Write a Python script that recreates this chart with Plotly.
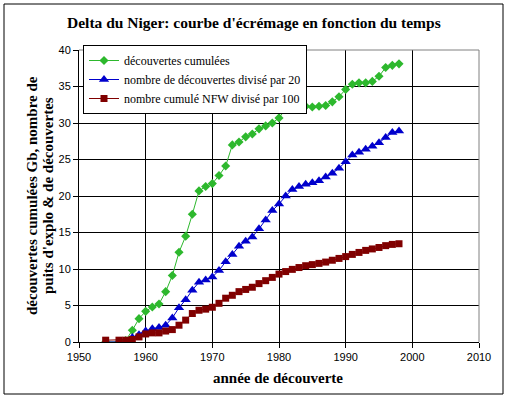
import plotly.graph_objects as go

years = [1954, 1956, 1957, 1958, 1959, 1960, 1961, 1962, 1963, 1964, 1965, 1966,
         1967, 1968, 1969, 1970, 1971, 1972, 1973, 1974, 1975, 1976, 1977, 1978,
         1979, 1980, 1981, 1982, 1983, 1984, 1985, 1986, 1987, 1988, 1989, 1990,
         1991, 1992, 1993, 1994, 1995, 1996, 1997, 1998]

decouvertes_cumulees = [0, 0, 0.2, 1.6, 3.2, 4.2, 4.8, 5.2, 6.9, 9.1, 12.3, 14.5,
                        17.5, 20.7, 21.3, 21.7, 22.8, 24.1, 27.0, 27.4, 28.1, 28.5, 29.2, 29.6,
                        30.0, 30.7, 31.9, 32.1, 32.2, 32.3, 32.2, 32.3, 32.4, 32.9, 33.6, 34.6,
                        35.3, 35.5, 35.5, 35.7, 36.4, 37.6, 37.9, 38.1]

nb_decouvertes_div20 = [0, 0, 0, 0.6, 1.0, 1.5, 1.8, 2.0, 2.3, 3.3, 4.7, 5.8,
                        7.1, 8.2, 8.5, 8.9, 9.8, 11.0, 12.0, 13.1, 13.8, 14.4, 15.5, 16.7,
                        18.0, 18.9, 20.0, 20.9, 21.3, 21.6, 21.8, 22.1, 22.6, 23.1, 23.8, 24.7,
                        25.6, 26.0, 26.4, 26.8, 27.3, 28.0, 28.7, 28.9]

nfw_cumule_div100 = [0.25, 0.25, 0.25, 0.35, 0.7, 1.1, 1.25, 1.25, 1.5, 1.7, 2.3, 3.0,
                     3.9, 4.35, 4.5, 4.76, 5.3, 6.0, 6.4, 6.9, 7.2, 7.5, 8.0, 8.4,
                     8.85, 9.3, 9.65, 9.95, 10.2, 10.45, 10.6, 10.77, 10.95, 11.2, 11.45, 11.7,
                     12.0, 12.27, 12.55, 12.75, 12.95, 13.2, 13.37, 13.46]

names = ["découvertes cumulées",
         "nombre de découvertes divisé par 20",
         "nombre cumulé NFW divisé par 100"]

title_text = "Delta du Niger: courbe d'écrémage en fonction du temps"
xtitle = "année de découverte"
ytitle_lines = ["découvertes cumulées Gb, nombre de", "puits d'explo & de découvertes"]

GREEN = "#2db82d"
BLUE = "#0000cc"
RED = "#800000"

fig = go.Figure()
fig.add_trace(go.Scatter(x=years, y=decouvertes_cumulees, name=names[0], mode="lines+markers",
                         line=dict(color=GREEN, width=1),
                         marker=dict(symbol="diamond", size=7, color=GREEN)))
fig.add_trace(go.Scatter(x=years, y=nb_decouvertes_div20, name=names[1], mode="lines+markers",
                         line=dict(color=BLUE, width=1),
                         marker=dict(symbol="triangle-up", size=9, color=BLUE)))
fig.add_trace(go.Scatter(x=years, y=nfw_cumule_div100, name=names[2], mode="lines+markers",
                         line=dict(color=RED, width=1),
                         marker=dict(symbol="square", size=7, color=RED)))

L, R, T, B = 79, 30, 50, 57
W, H = 509, 399
pw, ph = W - L - R, H - T - B

def px_x(p):
    return (p - L) / pw

def px_y(p):
    return (H - B - p) / ph

serif = "Liberation Serif"
sans = "Liberation Sans"

annotations = [
    dict(text="<b>" + title_text + "</b>", xref="paper", yref="paper",
         x=px_x(254), y=px_y(22), xanchor="center", yanchor="middle", showarrow=False,
         font=dict(family=serif, size=15.5, color="black")),
    dict(text="<b>" + xtitle + "</b>", xref="paper", yref="paper",
         x=px_x(278), y=px_y(378), xanchor="center", yanchor="middle", showarrow=False,
         font=dict(family=serif, size=15, color="black")),
]
for i, (line_text, xc) in enumerate(zip(ytitle_lines, [32, 48])):
    annotations.append(
        dict(text="<b>" + line_text + "</b>", xref="paper", yref="paper",
             x=px_x(xc), y=px_y(196), xanchor="center", yanchor="middle", showarrow=False,
             textangle=-90, font=dict(family=serif, size=15, color="black")))

fig.update_layout(
    width=W, height=H, autosize=False,
    margin=dict(l=L, r=R, t=T, b=B, pad=0),
    paper_bgcolor="white", plot_bgcolor="white",
    showlegend=True,
    legend=dict(x=px_x(83), y=px_y(45), xanchor="left", yanchor="top",
                bgcolor="white", bordercolor="black", borderwidth=1,
                font=dict(family=serif, size=12, color="black"),
                itemwidth=30, tracegroupgap=0),
    xaxis=dict(range=[1950, 2010], dtick=10, tick0=1950, showgrid=True, gridcolor="black",
               gridwidth=1, showline=True, linecolor="black", linewidth=1,
               ticks="outside", ticklen=5, tickcolor="black", zeroline=False,
               tickfont=dict(family=sans, size=11, color="black")),
    yaxis=dict(range=[0, 40], dtick=5, tick0=0, showgrid=True, gridcolor="black",
               gridwidth=1, showline=True, linecolor="black", linewidth=1,
               ticks="outside", ticklen=5, tickcolor="black", zeroline=False,
               tickfont=dict(family=sans, size=11, color="black")),
    shapes=[
        dict(type="line", xref="paper", yref="paper", x0=0, x1=1, y0=1, y1=1,
             line=dict(color="#808080", width=1), layer="above"),
        dict(type="line", xref="paper", yref="paper", x0=1, x1=1, y0=0, y1=1,
             line=dict(color="#808080", width=1), layer="above"),
        dict(type="rect", xref="paper", yref="paper", x0=px_x(4), x1=px_x(503),
             y0=px_y(394), y1=px_y(4), line=dict(color="black", width=1),
             fillcolor="rgba(0,0,0,0)", layer="above"),
    ],
    annotations=annotations,
)

fig.write_html("out.html", config={"displayModeBar": False},
               post_script="document.body.style.margin='0';document.body.style.overflow='hidden';")
